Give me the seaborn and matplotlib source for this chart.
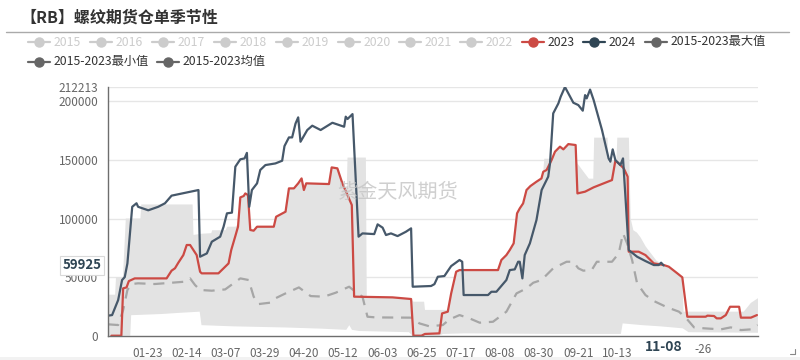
import numpy as np
import matplotlib
matplotlib.use("Agg")
import matplotlib.pyplot as plt
from matplotlib.lines import Line2D
from matplotlib.patches import Rectangle
import seaborn as sns

# ---------------- data (day index of year, values in thousands) ----------------
days_2024 = [0, 2.3, 5.7, 7.9, 9.4, 10.9, 13.6, 16, 16.9, 22.6, 28.2, 32, 35.7, 50.8, 51.7, 55.5, 58.3,
             63, 64.9, 66.8, 69.6, 71.5, 74.3, 76.7, 78, 79.3, 80.8, 83.7, 85.5, 88.4, 94, 97.8, 99.1,
             101.6, 103.4, 105.3, 106.8, 108.1, 111.9, 114.7, 119.4, 126, 132.6, 133.5, 134.5, 137.3,
             140.7, 142.9, 149.5, 151.4, 154.2, 156.1, 158.9, 162.6, 167.3, 170.2, 171.1, 181.4, 183.3,
             185.2, 188.9, 190.8, 192.7, 197.4, 198.9, 199.7, 213.4, 215.3, 218.1, 223.7, 225.6, 228.4,
             230.3, 231.2, 232.7, 234, 236.9, 240.6, 243.5, 247.2, 248.2, 250, 252.9, 254.2, 256.6, 261.3,
             264.1, 266.6, 267.9, 268.8, 270.7, 272.7, 277.4, 281.1, 282.1, 283.4, 284.9, 287.7, 289.2,
             290.5, 292.4, 297.1, 301.8, 306.5, 309.3, 310.6, 312]
vals_2024 = [17.1, 17.6, 30.4, 47.5, 50, 61.7, 110, 113, 110, 107, 110, 113, 119.5, 124.3, 67.4, 70.2, 80.2,
             84.5, 93, 104.4, 105, 144.2, 150.5, 151.3, 156, 110, 124.3, 130, 141.4, 145.6, 147, 149.3, 161.8,
             169.2, 169.2, 181, 186.3, 165.5, 175.5, 179.2, 175.5, 181.7, 178.3, 186.9, 184.9, 189.1,
             84.5, 87.3, 86.7, 95, 92.2, 85.9, 87.3, 85, 88.7, 91.6, 41.8, 42.4, 44,
             50.3, 50.9, 55.2, 59.4, 64.6, 63.1, 34.7, 34.7, 37.5, 37.5, 47.5, 56, 56.6,
             63.1, 63.1, 48.9, 68.8, 78.8, 98.7, 124.3, 135.7, 147, 189.7, 198.2, 203.9, 212.213, 198.8,
             196.8, 192, 205.3, 202.5, 210.0, 201.1, 175.5, 151.3, 148.5, 159, 149.9, 145.6, 151.3,
             120, 73.1, 67.4, 63.7, 60.3, 60.3, 62.3, 59.925]

days_2023 = [1.9, 7.5, 8.5, 10.4, 11.7, 15, 32.9, 35.7, 37.6, 39.5, 42.3, 44.2, 46.1, 49.8, 51.7, 52.6, 62,
             64.9, 67.7, 69.2, 71.5, 73, 74.3, 76.2, 77.1, 78.6, 79.9, 81.8, 83.7, 93.1, 94.4, 99.7, 101.6,
             104.4, 106.8, 108.7, 110, 111.3, 124.1, 125.6, 128.8, 131.6, 134.5, 136.9, 138.2, 159.8,
             170.2, 171.5, 176, 178, 186.1, 187.6, 190.8, 192.7, 195.5, 197.4, 219, 220.9, 223.7, 225.6,
             227.8, 229.7, 231.2, 233.1, 235, 237.2, 240.6, 243.4, 244.4, 246.3, 249.1, 251, 253.8, 255.7,
             258.5, 262.6, 263.6, 267.9, 272.7, 283, 284.9, 286.8, 289.6, 291.8, 292.4, 298, 301.8, 306.5,
             312.1, 314.9, 319.7, 322.5, 325.3, 335.6, 336.6, 340.3, 341.8, 344.1, 346.9, 349.3, 354.4,
             355.4, 361, 364.4]
vals_2023 = [0, 0, 40.4, 41.2, 46.6, 48.9, 48.9, 55.5, 57.5, 62.3, 68.8, 77.4, 77.4, 68.8, 54.6, 53.2, 53.2,
             57.5, 61.7, 73.1, 85, 93, 118, 119.2, 121.4, 120, 90.2, 89.6, 93, 93, 101.5, 105.8, 125.7,
             125.7, 130, 134.2, 124.3, 130, 129.4, 143.6, 142.8, 130, 120, 111.5, 33.3, 32.7,
             31.3, 0, 0, 1.5, 2, 19, 20.5, 36.1, 54.6, 56, 56, 64.6, 68.8, 73.1,
             78.8, 104.4, 108.6, 112.9, 124.3, 127.7, 131.4, 134.2, 139.9, 141.4, 149.9, 157, 161.3, 159,
             163.5, 162.7, 121.4, 122.9, 126.6, 132.8, 149.3, 147, 142.8, 135.7, 71.7, 71.7, 68.8, 61.7,
             60.3, 58.9, 53.2, 49.8, 16.2, 16.2, 17.1, 16.8, 14.8, 14.8, 17.6, 24.7, 24.7,
             15.4, 15.4, 17.6]

days_mean = [0, 5.7, 8.5, 10.9, 13.2, 16.9, 26.3, 35.7, 43.2, 46.1, 48.9, 51.7, 58.3, 65.8, 70.5, 74.3, 79,
             81.8, 84.6, 91.2, 94, 99.7, 107.2, 113.8, 121.3, 127.9, 135.4, 140.1, 142.9, 145.7, 150.4,
             170.2, 174.9, 180.5, 188, 191.8, 197.4, 203, 208.7, 216.2, 223.7, 229.4, 235, 238.8, 243.4,
             250, 257.5, 261.3, 264.1, 266.9, 271.6, 274.5, 283, 286.8, 289.2, 291.5, 294.3, 297.1, 301.8,
             306.5, 314, 320.6, 324.3, 329.1, 334.7, 344.1, 349.7, 355.4, 361, 364.8]
vals_mean = [9.7, 9.1, 21.9, 39, 44.1, 44.7, 44.1, 45.2, 46.1, 48.9, 43.2, 39, 38.4, 39.5, 44.7, 48.9, 47.5,
             33.3, 27, 28.2, 31.9, 36.1, 41.2, 33.8, 33.3, 36.7, 41.8, 36.1, 33.3, 16.2, 15.6,
             15.4, 10.5, 8.0, 9.1, 13.9, 17.6, 14.8, 11.1, 11.9, 20.5, 36.1, 40.4, 45.2, 47.5,
             57.5, 63.1, 63.1, 57.5, 55.5, 56, 63.1, 63.1, 70.2, 87.3, 78.8, 64.6, 44.7, 34.7,
             29.6, 24.2, 20.5, 15.6, 7.1, 6.3, 5.4, 7.1, 4.8, 5.4, 9.1]

days_max = [0, 4, 4.5, 8.4, 10, 18.2, 18.7, 47.5, 48, 52.6, 58, 58.5, 66, 67, 71.5, 73, 74.3, 76.2, 77.1,
            78.6, 79.9, 81.8, 83.7, 93.1, 94.4, 99.7, 101.6, 104.4, 106.8, 108.7, 110, 111.3, 124.1, 125.6,
            128.8, 131.6, 134, 134.5, 144.8, 145.3, 159.8, 170.2, 171.5, 177.5, 178, 190.8, 192.7, 195.5,
            197.4, 219, 220.9, 223.7, 225.6, 227.8, 229.7, 231.2, 233.1, 235, 237.2, 240.6, 243.4, 244.4,
            245, 249, 251, 253.8, 255.7, 258.5, 262.6, 263.6, 267, 270, 272.5, 273, 280.5, 281, 285.5,
            286, 292.5, 293.5, 295, 297, 299, 302, 305, 308, 312.1, 314.9, 319.7, 322.5, 323.2, 357, 361, 365]
vals_max = [35, 35, 50, 50, 100, 100, 112, 112, 86, 87, 87.5, 90, 90, 93, 93, 95, 118, 119.5, 121.5,
            120, 90.5, 90, 93, 93, 101.5, 106, 126, 126, 130, 134.5, 125, 130, 129.5, 143.8,
            143, 130, 121, 152, 152, 33.5, 33, 31.5, 29, 29, 22, 22, 36.2, 55,
            56.2, 56.2, 64.8, 69, 73.3, 79, 104.6, 109, 113, 124.5, 128, 131.6, 134.4, 140,
            151, 151, 157.2, 161.5, 159.2, 163.7, 163, 147, 140, 134, 134, 169, 169, 148, 149.5,
            169, 169, 100, 90, 88, 84, 76, 70, 64, 60.5, 59.1, 53.4, 50, 20.5, 20.5, 28, 32]

days_min = [0, 12.5, 13, 30, 40, 51.5, 52.5, 70, 100, 120, 133.8, 135.5, 137, 141, 169, 171, 186, 188,
            200, 250, 288, 289, 300, 310, 322.7, 326, 365]
vals_min = [0, 0, 17.5, 18.5, 19.5, 20.5, 9, 8, 7, 6, 5, 9, 5, 4, 3, 0, 0, 1.5,
            2, 1.5, 1.5, 10.5, 9, 8, 6.3, 3, 2.5]

tick_days = [22, 44, 66, 88, 110, 132, 154, 176, 198, 220, 242, 264, 286, 308, 330]
tick_labels = ["01-23", "02-14", "03-07", "03-29", "04-20", "05-12", "06-03", "06-25", "07-17",
               "08-08", "08-30", "09-21", "10-13", "", ""]
y_ticks = [0, 50000, 100000, 150000, 200000, 212213]

legend_row1 = ["2015", "2016", "2017", "2018", "2019", "2020", "2021", "2022", "2023", "2024",
               "2015-2023最大值"]
legend_row2 = ["2015-2023最小值", "2015-2023均值"]

# ---------------- styling ----------------
sns.set_style("white")
plt.rcParams['font.family'] = ['Noto Sans CJK SC', 'DejaVu Sans']

RED = "#cc4a44"
DARK = "#46586a"
MEAN = "#a6a6a6"
BAND = "#e3e3e3"
AXC = "#6e6e6e"
TXT = "#666666"

W, H = 800, 360
fig = plt.figure(figsize=(8, 3.6), dpi=100)
fig.patch.set_facecolor("white")


def fx(x):
    return x / W


def fy(y):
    return 1 - y / H


ax = fig.add_axes([fx(108), fy(335.7), fx(758 - 108), (335.7 - 87) / H])
ax.set_facecolor("white")

k = 1000.0
xb = list(days_max) + list(days_min)[::-1]
yb = [v * k for v in vals_max] + [v * k for v in vals_min][::-1]
ax.fill(xb, yb, color=BAND, lw=0, zorder=1)

sns.lineplot(x=days_mean, y=[v * k for v in vals_mean], ax=ax, color=MEAN, linewidth=1.6,
             linestyle=(0, (5, 3.5)), estimator=None, sort=False, zorder=3)
sns.lineplot(x=days_2023, y=[v * k for v in vals_2023], ax=ax, color=RED, linewidth=1.6,
             estimator=None, sort=False, zorder=4)
sns.lineplot(x=days_2024, y=[v * k for v in vals_2024], ax=ax, color=DARK, linewidth=1.6,
             estimator=None, sort=False, zorder=5)

ax.set_xlim(0, 365)
ax.set_ylim(0, 212213)
ax.set_xlabel("")
ax.set_ylabel("")

ax.set_yticks(y_ticks)
ax.set_yticklabels([str(v) for v in y_ticks])
ax.set_xticks(tick_days)
ax.set_xticklabels(tick_labels)
ax.tick_params(axis='both', which='both', length=5, width=1, color=AXC, labelcolor=TXT,
               labelsize=8.5, pad=2, direction='out')
ax.tick_params(axis='x', pad=3)
for y in y_ticks[1:]:
    ax.axhline(y, color="#e6e6e6", lw=1, zorder=0)
for s in ["top", "right"]:
    ax.spines[s].set_visible(False)
for s in ["left", "bottom"]:
    ax.spines[s].set_color(AXC)
    ax.spines[s].set_linewidth(1)
    ax.spines[s].set_zorder(6)

# hovered x label and truncated next label
ax.text(312, -0.018, "11-08", transform=ax.get_xaxis_transform(), ha="center", va="top",
        fontsize=10, fontweight="bold", color="#2f4554")
ax.text(334, -0.028, "-26", transform=ax.get_xaxis_transform(), ha="center", va="top",
        fontsize=8.5, color=TXT)

# hovered y label
ax.text(-0.01, 59925, "59925", transform=ax.get_yaxis_transform(), ha="right", va="center",
        fontsize=9.5, fontweight="bold", color="#2f4554", zorder=10, clip_on=False,
        bbox=dict(boxstyle="square,pad=0.22", facecolor="white", edgecolor="#d9d9d9", lw=0.8))

# watermark
ax.text(0.446, 0.574, "紫金天风期货", transform=ax.transAxes, ha="center", va="center",
        fontsize=14.5, color="#c4c4c4", alpha=0.8, zorder=7)

# title and separator
fig.text(fx(20), fy(18), "【RB】螺纹期货仓单季节性", fontsize=11.5, fontweight="bold",
         color="#333333", va="center", ha="left")
fig.add_artist(Line2D([fx(6), fx(789)], [fy(32), fy(32)], color="#aaaaaa", lw=1))

# legend (drawn manually to match layout)
row1_x = [28, 90, 152, 214, 276, 338, 399, 460, 522, 583, 645]
row1_col = ["#cccccc"] * 8 + [RED, "#2f4554", "#666666"]
row1_txt = ["#cccccc"] * 8 + ["#333333"] * 3
row2_x = [28, 157]


def legend_item(x0, y, label, col, tcol):
    fig.add_artist(Line2D([fx(x0), fx(x0 + 22)], [fy(y), fy(y)], color=col, lw=1.6))
    fig.add_artist(Line2D([fx(x0 + 11)], [fy(y)], marker="o", markersize=6.5, color=col,
                          markeredgecolor=col))
    fig.text(fx(x0 + 26), fy(y), label, fontsize=8.8, color=tcol, va="center", ha="left")


for x0, lab, c, t in zip(row1_x, legend_row1, row1_col, row1_txt):
    legend_item(x0, 42, lab, c, t)
for x0, lab in zip(row2_x, legend_row2):
    legend_item(x0, 61.5, lab, "#666666", "#333333")

# bottom strip and resize corner
fig.add_artist(Rectangle((0, 0), 1, 3.5 / H, transform=fig.transFigure, facecolor="#f2f2f2",
                         edgecolor="none"))
fig.add_artist(Line2D([fx(790), fx(795), fx(795)], [fy(354), fy(354), fy(349)], color="#888888",
                      lw=0.8))

fig.savefig("out.png", dpi=100, facecolor="white")
